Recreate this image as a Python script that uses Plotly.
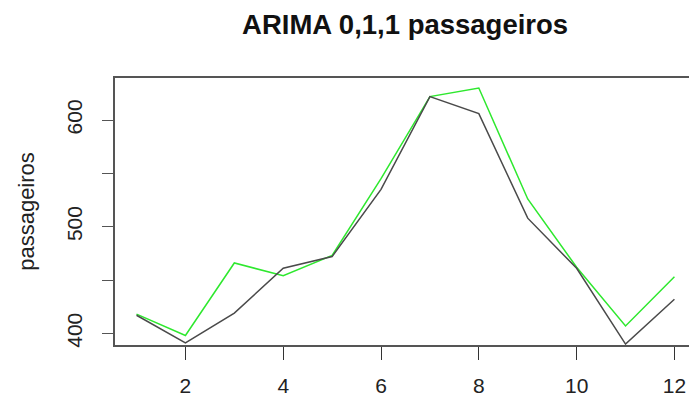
import plotly.graph_objects as go

# Monthly passengers: observed values and ARIMA(0,1,1) fit
months = list(range(1, 13))
observados = [417, 391, 419, 461, 472, 535, 622, 606, 508, 461, 390, 432]
arima_011 = [418, 398, 466, 454, 473, 545, 622, 630, 526, 462, 407, 453]

x_ticks = [2, 4, 6, 8, 10, 12]
y_ticks = [400, 450, 500, 550, 600]
y_tick_text = ["400", "", "500", "", "600"]

axis_col = "#555555"
font_family = "Liberation Sans, Arial, sans-serif"

fig = go.Figure()
fig.add_trace(go.Scatter(x=months, y=arima_011, mode="lines",
                         line=dict(color="#2ee82e", width=1.5), name="ARIMA 0,1,1"))
fig.add_trace(go.Scatter(x=months, y=observados, mode="lines",
                         line=dict(color="#4a4a4a", width=1.5), name="passageiros"))

fig.update_layout(
    width=689, height=399,
    margin=dict(l=115, r=0, t=78, b=54),
    paper_bgcolor="white", plot_bgcolor="white",
    showlegend=False,
    font=dict(family=font_family, color="#222222"),
    title=dict(text="<b>ARIMA 0,1,1 passageiros</b>", x=0.588, xanchor="center",
               y=0.94, yanchor="middle", font=dict(size=27.5, color="#111111")),
)
fig.update_xaxes(
    range=[0.56, 12.298], tickvals=x_ticks, showgrid=False, zeroline=False,
    showline=True, mirror=True, linecolor=axis_col, linewidth=1.5,
    ticks="outside", ticklen=13, tickcolor="#333333", tickwidth=1.2,
    ticklabelstandoff=8, automargin=False,
    tickfont=dict(size=21, color="#222222"),
)
fig.update_yaxes(
    range=[389.1, 639.4], tickvals=y_ticks, ticktext=y_tick_text,
    showgrid=False, zeroline=False,
    showline=True, mirror=False, linecolor=axis_col, linewidth=1.5,
    ticks="outside", ticklen=11, tickcolor=axis_col, tickwidth=1.2,
    ticklabelstandoff=12, automargin=False,
    tickangle=-90, tickfont=dict(size=21, color="#222222"),
    title=dict(text="passageiros", font=dict(size=22, color="#222222"), standoff=22),
)

fig.write_html("out.html")
